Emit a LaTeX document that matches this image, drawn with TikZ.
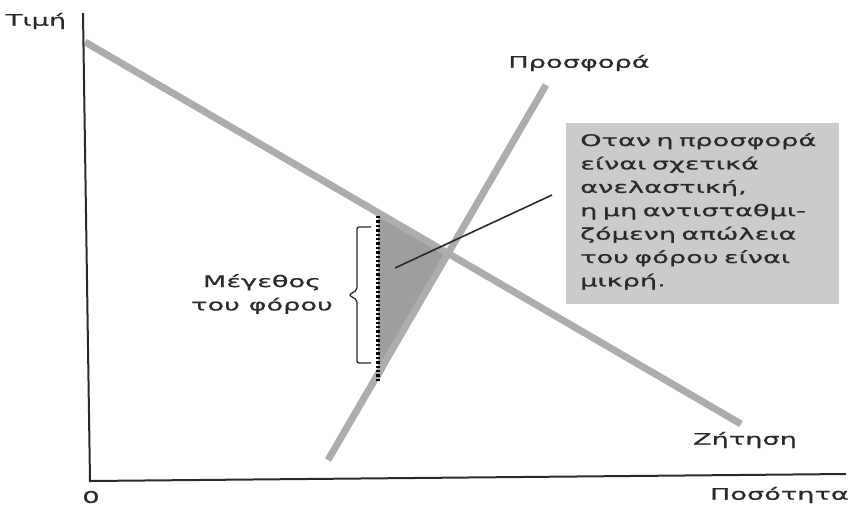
\documentclass[tikz,border=0pt]{standalone}
\usepackage{fontspec}
\newfontfamily\grfont[FakeStretch=1.7,FakeBold=0.7]{DejaVu Sans}
\definecolor{curvegray}{HTML}{ADADAD}
\definecolor{boxgray}{HTML}{CBCBCB}
\definecolor{trigray}{HTML}{9E9E9E}
\definecolor{ink}{HTML}{2A2A2A}
\tikzset{
  curve/.style={draw=curvegray, line width=7pt},
  axis/.style={draw=ink, line width=2pt},
  lbl/.style={font=\grfont\fontsize{16}{23.4}\selectfont, text=ink, inner sep=0pt},
  pointer/.style={draw=ink, line width=1.6pt},
}
\begin{document}
\begin{tikzpicture}[x=1pt,y=-1pt]
\useasboundingbox (0,0) rectangle (851,509);
% coordinates
\coordinate (ytop) at (83,13);
\coordinate (o) at (90,481);
\coordinate (xend) at (846,474);
\coordinate (d1) at (85,42);
\coordinate (d2) at (741,424);
\coordinate (s1) at (328,460);
\coordinate (s2) at (546,85);
\coordinate (eq) at (448,253);
\coordinate (t1) at (378,216);
\coordinate (t2) at (378,382);
\coordinate (pt) at (395,268);
\coordinate (pe) at (552,195);
% shaded triangle
\fill[trigray] (t1) -- (eq) -- (t2) -- cycle;
% curves
\draw[curve] (d1) -- (d2);
\draw[curve] (s1) -- (s2);
% axes
\draw[axis] (ytop) -- (o) -- (xend);
% dotted tax line
\draw[black, line width=3.2pt, dash pattern=on 2.4pt off 2pt] (t1) -- (t2);
% bracket
\coordinate (bt) at (349,295);
\draw[ink, line width=1.3pt, rounded corners=2pt] (371,227) -- (357,227) -- (357,290) -- (bt) -- (357,300) -- (357,363) -- (371,363);
% box
\node[fill=boxgray, minimum width=273pt, minimum height=181pt, anchor=north west, inner sep=0pt] (box) at (566,123) {};
\node[lbl, anchor=north west, align=left, text width=260pt] (boxtxt) at (580,133) {Οταν η προσφορά\\είναι σχετικά\\ανελαστική,\\η μη αντισταθμι-\\ζόμενη απώλεια\\του φόρου είναι\\μικρή.};
\draw[pointer] (pt) -- (pe);
% labels
\node[lbl] (tim) at (36,21) {Τιμή};
\node[lbl] (zero) at (91,497) {0};
\node[lbl, anchor=east] (pos) at (849,495) {Ποσότητα};
\node[lbl] (pro) at (579,63) {Προσφορά};
\node[lbl] (zit) at (745,440) {Ζήτηση};
\node[lbl, align=center, anchor=east] (meg) at (333,294) {Μέγεθος\\του φόρου};
\end{tikzpicture}
\end{document}
